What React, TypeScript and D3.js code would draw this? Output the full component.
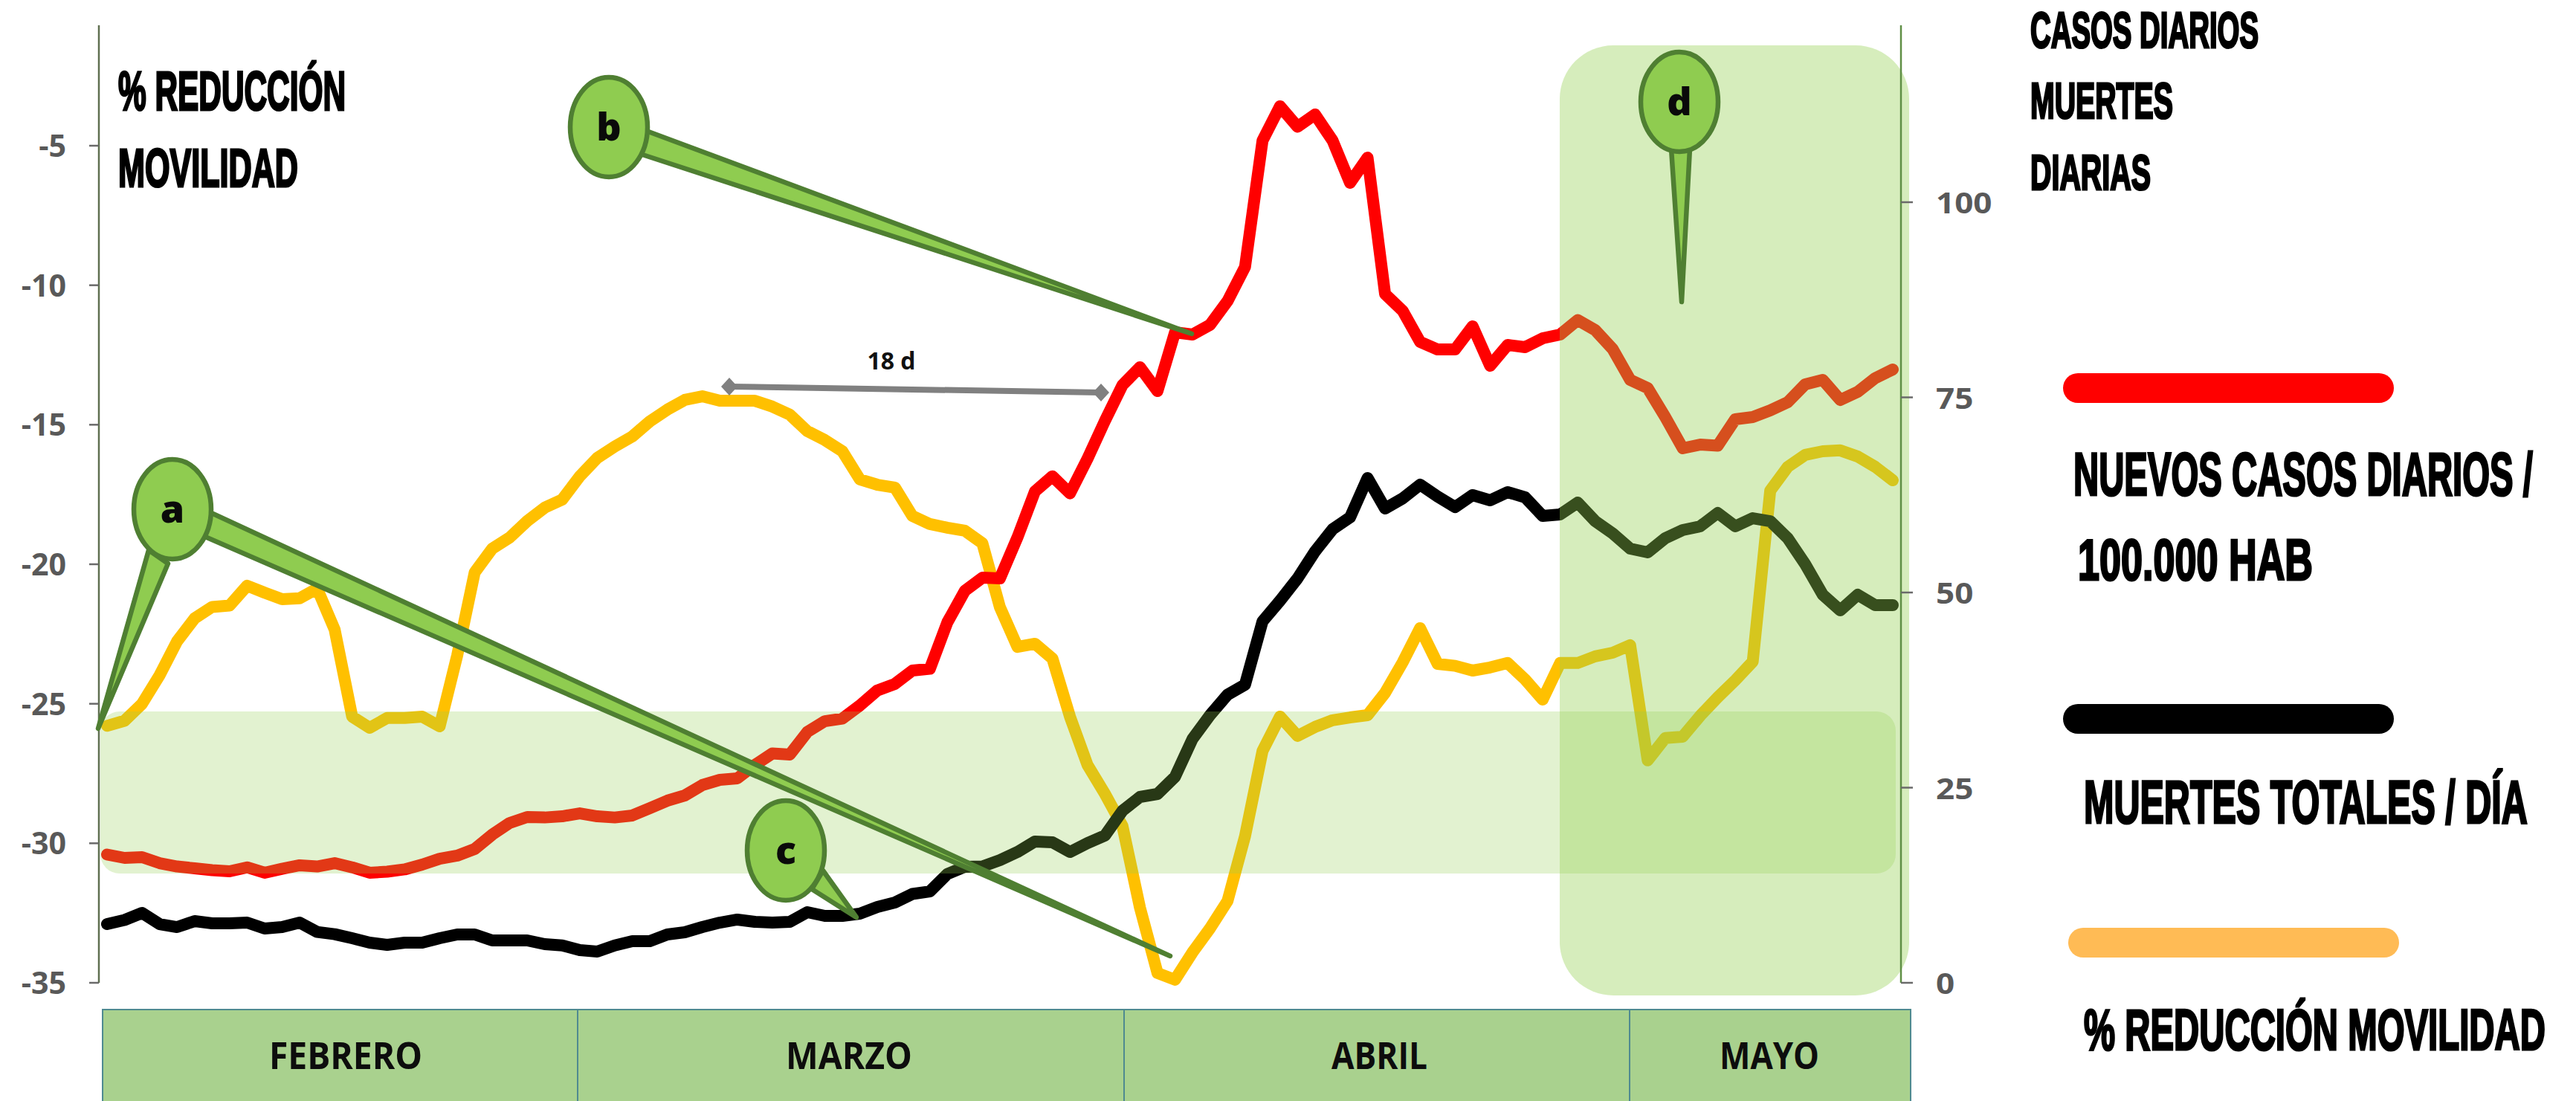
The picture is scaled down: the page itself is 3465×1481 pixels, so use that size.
import React from "react";
import * as d3 from "d3";

const W = 3465;
const H = 1481;

const mobilityPct = [-25.79,-25.61,-25.0,-23.98,-22.76,-21.94,-21.53,-21.48,-20.77,-21.02,-21.25,-21.22,-20.87,-22.34,-25.46,-25.86,-25.51,-25.51,-25.46,-25.81,-23.27,-20.29,-19.44,-19.04,-18.45,-17.97,-17.68,-16.85,-16.19,-15.78,-15.42,-14.88,-14.46,-14.11,-13.98,-14.14,-14.14,-14.14,-14.35,-14.64,-15.23,-15.55,-15.95,-16.96,-17.15,-17.25,-18.27,-18.56,-18.69,-18.8,-19.25,-21.54,-22.96,-22.85,-23.38,-25.46,-27.19,-28.23,-29.38,-32.31,-34.65,-34.89,-33.91,-33.05,-32.07,-29.75,-26.69,-25.46,-26.15,-25.83,-25.59,-25.49,-25.41,-24.61,-23.52,-22.29,-23.57,-23.64,-23.81,-23.7,-23.54,-24.13,-24.85,-23.54,-23.54,-23.3,-23.17,-22.9,-27.03,-26.23,-26.18,-25.43,-24.77,-24.16,-23.49,-17.36,-16.51,-16.08,-15.95,-15.92,-16.14,-16.51,-16.99];

const dailyCases = [16.43,16.0,16.1,15.33,14.9,14.67,14.43,14.29,14.79,14.1,14.61,15.05,14.9,15.33,14.79,14.1,14.24,14.53,15.14,15.9,16.29,17.14,18.98,20.48,21.24,21.18,21.33,21.71,21.33,21.18,21.43,22.38,23.33,24.0,25.33,26.0,26.19,27.9,29.38,29.24,32.14,33.52,33.85,35.52,37.46,38.29,40.0,40.23,46.19,50.22,51.9,51.81,57.05,62.95,64.89,62.7,67.14,72.0,76.57,78.86,75.81,83.33,83.05,84.29,87.33,91.71,107.9,112.29,109.67,111.24,107.9,102.48,105.71,88.24,86.1,82.1,81.14,81.14,84.1,79.05,81.71,81.43,82.57,83.05,84.9,83.62,81.19,77.24,76.19,72.48,68.48,68.95,68.81,72.19,72.48,73.33,74.38,76.67,77.24,74.67,75.71,77.47,78.57];

const dailyDeaths = [7.52,8.05,8.95,7.52,7.14,7.9,7.62,7.62,7.71,6.95,7.14,7.71,6.51,6.23,5.71,5.14,4.86,5.14,5.14,5.71,6.19,6.19,5.43,5.43,5.43,4.95,4.79,4.19,4.0,4.79,5.33,5.33,6.19,6.48,7.14,7.71,8.1,7.81,7.71,7.81,9.05,8.57,8.57,8.86,9.71,10.29,11.38,11.71,13.94,14.86,14.9,15.71,16.76,18.1,18.0,16.76,17.9,18.86,22.04,23.81,24.19,26.38,31.24,34.29,36.9,38.19,46.29,48.95,51.81,55.27,58.1,59.62,64.67,60.76,62.05,63.81,62.29,60.95,62.48,61.81,62.86,62.19,59.81,60.0,61.52,59.14,57.57,55.62,55.14,56.95,58.0,58.48,60.19,58.48,59.52,59.14,56.95,53.62,49.71,47.71,49.71,48.38,48.38];

const leftTicks = [-5, -10, -15, -20, -25, -30, -35];
const rightTicks = [0, 25, 50, 75, 100];
const months = ["FEBRERO", "MARZO", "ABRIL", "MAYO"];
const monthEdges = [138, 777, 1512, 2192, 2570];
const monthLabelBoxes = [[362, 568], [1057, 1227], [1791, 1920], [2313, 2447]];

const x = d3.scaleLinear().domain([0, 102]).range([144, 2546]);
const yL = d3.scaleLinear().domain([-35, -5]).range([1322, 196]);
const yR = d3.scaleLinear().domain([0, 100]).range([1322, 272]);

const lineL = d3.line<number>().x((_, i) => x(i)).y((d) => yL(d));
const lineR = d3.line<number>().x((_, i) => x(i)).y((d) => yR(d));

const SANS = "'Liberation Sans', Arial, sans-serif";
const OPEN = "'Open Sans', sans-serif";
const BAND = "#92d050";
const BUBBLE = "#8fcc50";
const BUBBLE_EDGE = "#4f7f32";

const measureCtx =
  typeof document !== "undefined" ? document.createElement("canvas").getContext("2d") : null;

function squeeze(text: string, font: string, target: number) {
  if (!measureCtx) return 0.7;
  measureCtx.font = font;
  return target / measureCtx.measureText(text).width;
}

// Text squeezed horizontally to fill a box, through a transform rather than textLength.
function Fit({ x0, x1, base, cap, heavy = 2.6, family = SANS, capRatio = 0.729, weight = 700, fill = "#000", children }: any) {
  const size = cap / capRatio;
  const sx = squeeze(children, `${weight} ${size}px ${family}`, x1 - x0);
  return (
    <text
      transform={`translate(${x0},${base}) scale(${sx},1)`}
      fontFamily={family}
      fontWeight={weight}
      fontSize={size}
      fill={fill}
      stroke={heavy > 0 ? fill : "none"}
      strokeWidth={heavy}
      style={{ vectorEffect: "non-scaling-stroke" }}
    >
      {children}
    </text>
  );
}

function Callout({ cx, cy, letter, tails }: any) {
  return (
    <g>
      {tails.map((t: number[], i: number) => (
        <polygon
          key={i}
          points={`${t[0]},${t[1]} ${t[2]},${t[3]} ${t[4]},${t[5]}`}
          fill={BUBBLE}
          stroke={BUBBLE_EDGE}
          strokeWidth={6.5}
          strokeLinejoin="round"
        />
      ))}
      <ellipse cx={cx} cy={cy} rx={52} ry={67} fill={BUBBLE} stroke={BUBBLE_EDGE} strokeWidth={6.5} />
      <text
        x={cx}
        y={cy + 18}
        textAnchor="middle"
        fontFamily={OPEN}
        fontWeight={800}
        fontSize={52}
        fill="#0a0a0a"
      >
        {letter}
      </text>
    </g>
  );
}

export default function App() {
  return (
    <svg
      width={W}
      height={H}
      viewBox={`0 0 ${W} ${H}`}
      style={{ position: "absolute", left: 0, top: 0, display: "block", background: "#fff" }}
    >
      {/* series */}
      <g fill="none" strokeWidth={16} strokeLinejoin="round" strokeLinecap="round">
        <path d={lineL(mobilityPct) as string} stroke="#ffc000" />
        <path d={lineR(dailyCases) as string} stroke="#ff0000" />
        <path d={lineR(dailyDeaths) as string} stroke="#000000" />
      </g>

      {/* shaded bands over the lines */}
      <rect x={135} y={957} width={2415} height={218} rx={26} fill={BAND} opacity={0.27} />
      <rect x={2098} y={61} width={470} height={1278} rx={72} fill={BAND} opacity={0.38} />

      {/* axes */}
      <line x1={133} x2={133} y1={34} y2={1322} stroke="#5f7050" strokeWidth={2.5} />
      {leftTicks.map((t) => (
        <g key={t}>
          <line x1={120} x2={133} y1={yL(t)} y2={yL(t)} stroke="#6a6a6a" strokeWidth={2.5} />
          <text
            transform={`translate(89,${yL(t) + 15}) scale(0.98,1)`}
            textAnchor="end"
            fontFamily={OPEN}
            fontWeight={700}
            fontSize={42}
            fill="#595959"
          >
            {t}
          </text>
        </g>
      ))}
      <line x1={2557} x2={2557} y1={34} y2={1322} stroke="#5f8f45" strokeWidth={2.5} />
      {rightTicks.map((t) => (
        <g key={t}>
          <line x1={2557} x2={2573} y1={yR(t)} y2={yR(t)} stroke="#6a6a6a" strokeWidth={2.5} />
          <text
            transform={`translate(2604,${yR(t) + 15}) scale(1.1,1)`}
            fontFamily={OPEN}
            fontWeight={700}
            fontSize={40}
            fill="#595959"
          >
            {t}
          </text>
        </g>
      ))}

      {/* month strip */}
      {months.map((m, i) => (
        <g key={m}>
          <rect
            x={monthEdges[i]}
            y={1358}
            width={monthEdges[i + 1] - monthEdges[i]}
            height={140}
            fill="#a9d18e"
            stroke="#4f8a90"
            strokeWidth={2}
          />
          <Fit
            x0={monthLabelBoxes[i][0]}
            x1={monthLabelBoxes[i][1]}
            base={1438}
            cap={36}
            heavy={0}
            family={OPEN}
            capRatio={0.714}
            weight={700}
            fill="#0d0d0d"
          >
            {m}
          </Fit>
        </g>
      ))}

      {/* 18 d interval */}
      <line x1={981} y1={520} x2={1481} y2={528} stroke="#808080" strokeWidth={8} />
      <polygon points="970,520 981,508 992,520 981,532" fill="#808080" />
      <polygon points="1470,528 1481,516 1492,528 1481,540" fill="#808080" />
      <text x={1199} y={497} textAnchor="middle" fontFamily={OPEN} fontWeight={700} fontSize={32} fill="#111">
        18 d
      </text>

      {/* callouts */}
      <Callout cx={232} cy={685} letter="a" tails={[[280, 688, 276, 722, 1574, 1286], [200, 740, 226, 758, 132, 980]]} />
      <Callout cx={819} cy={171} letter="b" tails={[[864, 174, 858, 206, 1603, 449]]} />
      <Callout cx={1057} cy={1144} letter="c" tails={[[1107, 1171, 1092, 1196, 1152, 1234]]} />
      <Callout cx={2259} cy={137} letter="d" tails={[[2248, 200, 2273, 200, 2262, 406]]} />

      {/* titles */}
      <Fit x0={159} x1={465} base={148} cap={54}>% REDUCCIÓN</Fit>
      <Fit x0={159} x1={401} base={251} cap={52}>MOVILIDAD</Fit>
      <Fit x0={2731} x1={3038} base={64} cap={50}>CASOS DIARIOS</Fit>
      <Fit x0={2731} x1={2923} base={159} cap={50}>MUERTES</Fit>
      <Fit x0={2731} x1={2893} base={255} cap={49}>DIARIAS</Fit>

      {/* legend */}
      <rect x={2775} y={502} width={445} height={40} rx={20} fill="#ff0000" />
      <Fit x0={2789} x1={3407} base={666} cap={59}>NUEVOS CASOS DIARIOS /</Fit>
      <Fit x0={2795} x1={3111} base={780} cap={57}>100.000 HAB</Fit>
      <rect x={2775} y={947} width={445} height={40} rx={20} fill="#000000" />
      <Fit x0={2803} x1={3400} base={1107} cap={59}>MUERTES TOTALES / DÍA</Fit>
      <rect x={2782} y={1248} width={445} height={40} rx={20} fill="#ffbb55" />
      <Fit x0={2803} x1={3424} base={1412} cap={57}>% REDUCCIÓN MOVILIDAD</Fit>
    </svg>
  );
}
